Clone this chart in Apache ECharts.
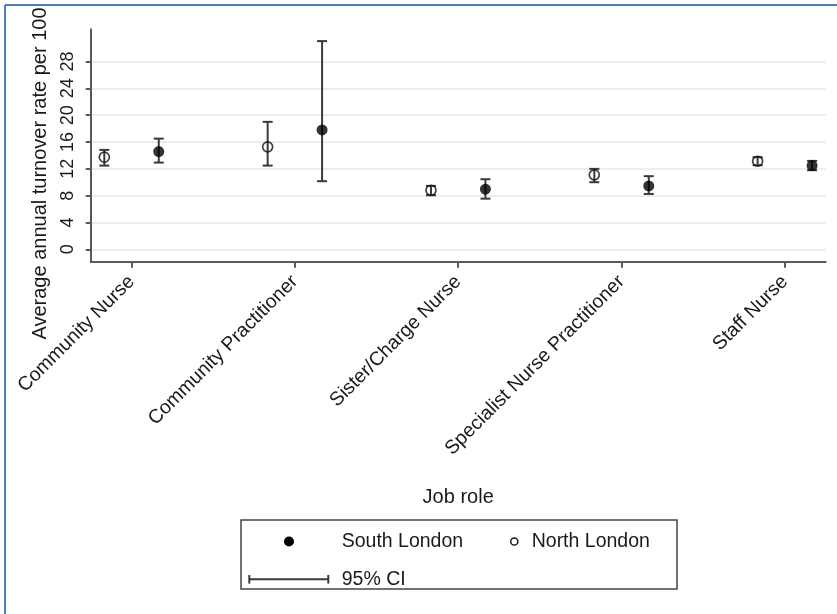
<!DOCTYPE html>
<html>
<head>
<meta charset="utf-8">
<title>Average annual turnover rate by job role</title>
<script src="https://cdn.jsdelivr.net/npm/echarts@6/dist/echarts.min.js"></script>
<style>
  html, body { margin: 0; padding: 0; background: #ffffff; }
  #chart { width: 837px; height: 614px; }
</style>
</head>
<body>
<div id="chart"></div>
<script>
// Job roles shown along the x axis (placed at positions 1..5)
const categories = ['Community Nurse', 'Community Practitioner', 'Sister/Charge Nurse',
                    'Specialist Nurse Practitioner', 'Staff Nurse'];

// South London: mean turnover per 100 and 95% CI bounds
const southMean = [14.57, 17.8, 8.96, 9.45, 12.48];
const southLow  = [12.93, 10.15, 7.55, 8.25, 11.79];
const southHigh = [16.5, 31.04, 10.45, 10.9, 13.18];

// North London: mean turnover per 100 and 95% CI bounds
const northMean = [13.73, 15.27, 8.8, 11.09, 13.13];
const northLow  = [12.48, 12.48, 8.06, 10.0, 12.54];
const northHigh = [14.82, 19.0, 9.45, 11.99, 13.73];

// Y axis tick values
const yTicks = [0, 4, 8, 12, 16, 20, 24, 28];

// Horizontal dodge of the two groups around each category position
const dodge = 1 / 6;
const catPos = categories.map((_, i) => i + 1);

const FONT = '"Liberation Sans", Arial, sans-serif';
const INK = '#1a1a1a';

const southPts = catPos.map((p, i) => [p + dodge, southMean[i]]);
const northPts = catPos.map((p, i) => [p - dodge, northMean[i]]);
const ciData = catPos.map((p, i) => [p + dodge, southLow[i], southHigh[i]])
  .concat(catPos.map((p, i) => [p - dodge, northLow[i], northHigh[i]]));

function renderCI(params, api) {
  const x = api.value(0);
  const lo = api.coord([x, api.value(1)]);
  const hi = api.coord([x, api.value(2)]);
  const cap = 5;
  const style = { stroke: '#3a3a3a', lineWidth: 2 };
  return {
    type: 'group',
    children: [
      { type: 'line', shape: { x1: lo[0], y1: lo[1], x2: hi[0], y2: hi[1] }, style },
      { type: 'line', shape: { x1: lo[0] - cap, y1: lo[1], x2: lo[0] + cap, y2: lo[1] }, style },
      { type: 'line', shape: { x1: hi[0] - cap, y1: hi[1], x2: hi[0] + cap, y2: hi[1] }, style }
    ]
  };
}

const chart = echarts.init(document.getElementById('chart'), null, { renderer: 'canvas' });

const axisLineStyle = { color: '#5a5a5a', width: 2 };

chart.setOption({
  animation: false,
  backgroundColor: '#ffffff',
  textStyle: { fontFamily: FONT },
  grid: { left: 90.7, right: 11.3, top: 29.3, bottom: 352.3, containLabel: false },
  xAxis: {
    type: 'value',
    min: 0.75,
    max: 5.25,
    name: 'Job role',
    nameLocation: 'middle',
    nameGap: 226,
    nameTextStyle: { fontFamily: FONT, fontSize: 20, color: INK },
    axisLine: { show: true, onZero: false, lineStyle: axisLineStyle },
    axisTick: { show: true, length: 6, lineStyle: axisLineStyle, customValues: catPos },
    axisLabel: {
      customValues: catPos,
      rotate: 45,
      margin: 17,
      fontFamily: FONT,
      fontSize: 19.5,
      color: INK,
      formatter: v => categories[Math.round(v) - 1] || ''
    },
    splitLine: { show: false }
  },
  yAxis: {
    type: 'value',
    min: -1.85,
    max: 32.8,
    name: 'Average annual turnover rate per 100',
    nameLocation: 'middle',
    nameGap: 37,
    nameTextStyle: { fontFamily: FONT, fontSize: 20, color: INK, padding: [0, 56, 0, 0] },
    axisLine: { show: true, onZero: false, lineStyle: axisLineStyle },
    axisTick: { show: true, length: 5, lineStyle: axisLineStyle, customValues: yTicks },
    axisLabel: {
      customValues: yTicks,
      rotate: 90,
      margin: 14,
      fontFamily: FONT,
      fontSize: 18,
      color: INK
    },
    splitLine: { show: true, lineStyle: { color: '#e7f0f1', width: 2 } }
  },
  series: [
    {
      name: '95% CI',
      type: 'custom',
      renderItem: renderCI,
      encode: { x: 0, y: [1, 2] },
      data: ciData,
      z: 2,
      silent: true
    },
    {
      name: 'South London',
      type: 'scatter',
      data: southPts,
      symbol: 'circle',
      symbolSize: 11,
      itemStyle: { color: '#000000' },
      z: 3
    },
    {
      name: 'North London',
      type: 'scatter',
      data: northPts,
      symbol: 'circle',
      symbolSize: 10,
      itemStyle: { color: 'rgba(0,0,0,0)', borderColor: '#111111', borderWidth: 1.7 },
      z: 3
    }
  ],
  graphic: [
    // frame edges
    { type: 'line', shape: { x1: 5, y1: 5, x2: 837, y2: 5 }, style: { stroke: '#4f7fc0', lineWidth: 2 } },
    { type: 'line', shape: { x1: 5, y1: 5, x2: 5, y2: 614 }, style: { stroke: '#4f7fc0', lineWidth: 2 } },
    // legend box
    {
      type: 'group',
      children: [
        { type: 'rect', shape: { x: 241, y: 520, width: 436, height: 69 },
          style: { fill: '#ffffff', stroke: '#444444', lineWidth: 1.5 } },
        { type: 'circle', shape: { cx: 289, cy: 541.5, r: 5 }, style: { fill: '#000000' } },
        { type: 'text', x: 341.7, y: 541.5,
          style: { text: 'South London', font: '19.5px ' + FONT, fill: INK, verticalAlign: 'middle' } },
        { type: 'circle', shape: { cx: 514.3, cy: 541.5, r: 3.6 },
          style: { fill: 'none', stroke: '#1a1a1a', lineWidth: 1.5 } },
        { type: 'text', x: 531.7, y: 541.5,
          style: { text: 'North London', font: '19.5px ' + FONT, fill: INK, verticalAlign: 'middle' } },
        { type: 'line', shape: { x1: 249.3, y1: 579.3, x2: 328.3, y2: 579.3 },
          style: { stroke: '#3a3a3a', lineWidth: 2 } },
        { type: 'line', shape: { x1: 249.3, y1: 575, x2: 249.3, y2: 583.6 },
          style: { stroke: '#3a3a3a', lineWidth: 2 } },
        { type: 'line', shape: { x1: 328.3, y1: 575, x2: 328.3, y2: 583.6 },
          style: { stroke: '#3a3a3a', lineWidth: 2 } },
        { type: 'text', x: 341.7, y: 579.3,
          style: { text: '95% CI', font: '19.5px ' + FONT, fill: INK, verticalAlign: 'middle' } }
      ]
    }
  ]
});
</script>
</body>
</html>
